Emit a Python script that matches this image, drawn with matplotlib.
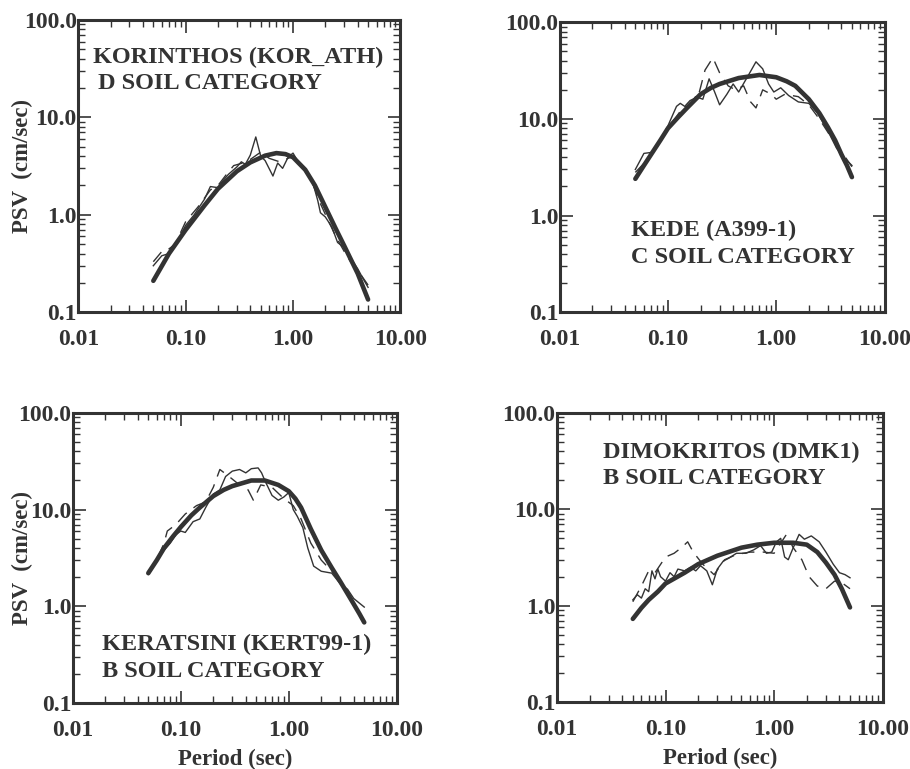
import numpy as np
import matplotlib
matplotlib.use("Agg")
from matplotlib import pyplot as plt
from matplotlib.ticker import LogLocator, NullFormatter

plt.rcParams['font.family'] = ['Liberation Serif', 'DejaVu Serif']
plt.rcParams['font.weight'] = 'bold'
plt.rcParams['axes.labelweight'] = 'bold'

# ---- data (period in sec, PSV in cm/sec) ----
# KORINTHOS
kor_t_fit = [0.05, 0.07, 0.10, 0.15, 0.20, 0.30, 0.40, 0.55, 0.70, 0.85, 1.00, 1.30, 1.60, 2.00, 2.50, 3.00, 4.00, 5.00]
kor_v_fit = [0.21, 0.40, 0.70, 1.25, 1.85, 2.80, 3.45, 4.05, 4.30, 4.20, 3.90, 2.90, 2.00, 1.20, 0.72, 0.48, 0.25, 0.135]
kor_t_rec1 = [0.05, 0.06, 0.07, 0.08, 0.10, 0.12, 0.15, 0.17, 0.20, 0.22, 0.25, 0.30, 0.33, 0.36, 0.40, 0.45, 0.50, 0.55,
              0.65, 0.72, 0.80, 0.90, 1.00, 1.10, 1.30, 1.50, 1.70, 1.80, 2.00, 2.30, 2.60, 3.00, 3.50, 4.00, 4.50, 5.00]
kor_v_rec1 = [0.30, 0.38, 0.40, 0.48, 0.78, 1.00, 1.45, 1.95, 1.90, 2.20, 2.60, 3.10, 3.50, 3.30, 4.10, 6.30, 4.00, 3.60,
              2.50, 3.40, 3.00, 3.90, 4.30, 3.60, 3.00, 2.30, 1.40, 1.05, 0.95, 0.75, 0.52, 0.46, 0.35, 0.28, 0.22, 0.18]
kor_t_rec2 = [0.05, 0.06, 0.065, 0.08, 0.10, 0.13, 0.17, 0.20, 0.24, 0.28, 0.34, 0.40, 0.50, 0.60, 0.75, 0.90, 1.00,
              1.20, 1.50, 1.80, 2.10, 2.50, 3.00, 3.50, 4.00, 5.00]
kor_v_rec2 = [0.33, 0.42, 0.42, 0.50, 0.85, 1.20, 1.80, 2.00, 2.60, 3.20, 3.40, 3.70, 4.40, 3.80, 3.50, 3.80, 4.00,
              3.20, 2.20, 1.30, 0.90, 0.60, 0.42, 0.32, 0.27, 0.19]

# KEDE
ked_t_fit = [0.05, 0.06, 0.07, 0.085, 0.10, 0.125, 0.15, 0.20, 0.25, 0.30, 0.45, 0.70, 1.00, 1.25, 1.50, 2.00, 2.50,
             3.00, 3.50, 4.00, 4.50, 5.00]
ked_v_fit = [2.4, 3.3, 4.3, 6.0, 8.0, 10.5, 13.0, 18.0, 21.0, 23.0, 26.5, 28.5, 27.0, 24.5, 22.0, 16.0, 11.5,
             8.2, 6.0, 4.3, 3.3, 2.5]
ked_t_rec1 = [0.05, 0.06, 0.07, 0.08, 0.09, 0.10, 0.12, 0.13, 0.15, 0.18, 0.21, 0.24, 0.27, 0.30, 0.35, 0.40, 0.45,
              0.55, 0.65, 0.75, 0.85, 0.95, 1.10, 1.30, 1.60, 2.00, 2.40, 3.00, 3.60, 4.20, 5.00]
ked_v_rec1 = [3.0, 4.4, 4.5, 5.2, 6.8, 8.5, 13.5, 14.5, 13.0, 17.0, 16.0, 26.0, 19.0, 14.0, 18.0, 23.0, 19.0,
              28.0, 39.0, 33.0, 23.0, 19.0, 21.0, 17.5, 15.0, 14.5, 11.5, 7.5, 5.0, 4.0, 3.3]
ked_t_rec2 = [0.05, 0.065, 0.08, 0.10, 0.13, 0.16, 0.19, 0.22, 0.26, 0.30, 0.36, 0.42, 0.50, 0.58, 0.65, 0.75,
              0.90, 1.00, 1.20, 1.60, 2.00, 2.50, 3.20, 4.00, 5.00]
ked_v_rec2 = [2.8, 3.8, 5.5, 8.0, 12.0, 15.5, 17.0, 32.0, 43.0, 30.0, 22.0, 20.0, 22.0, 15.0, 13.0, 20.0,
              18.0, 16.0, 18.0, 17.0, 14.0, 10.0, 6.5, 4.6, 3.2]

# KERATSINI
ker_t_fit = [0.05, 0.06, 0.07, 0.085, 0.10, 0.125, 0.15, 0.20, 0.25, 0.30, 0.45, 0.60, 0.80, 1.00, 1.15, 1.30, 1.60,
             2.00, 2.50, 3.00, 3.50, 4.00, 4.50, 5.00]
ker_v_fit = [2.2, 3.0, 4.0, 5.3, 6.6, 8.7, 10.5, 13.8, 16.0, 17.5, 20.0, 20.0, 18.0, 15.5, 13.0, 10.5, 6.3,
             3.8, 2.5, 1.8, 1.35, 1.05, 0.84, 0.68]
ker_t_rec1 = [0.05, 0.06, 0.07, 0.08, 0.09, 0.10, 0.11, 0.13, 0.15, 0.17, 0.20, 0.23, 0.26, 0.30, 0.35, 0.40, 0.45,
              0.52, 0.56, 0.60, 0.70, 0.80, 0.90, 1.00, 1.10, 1.20, 1.35, 1.50, 1.70, 2.00, 2.50, 3.00, 3.50, 4.00, 5.00]
ker_v_rec1 = [2.3, 3.0, 3.8, 4.5, 5.5, 6.0, 5.8, 7.5, 8.0, 10.5, 14.5, 16.0, 22.0, 25.0, 26.0, 24.0, 26.5,
              27.0, 24.0, 20.0, 14.0, 12.5, 13.5, 15.0, 10.0, 8.5, 6.5, 4.0, 2.6, 2.3, 2.2, 1.7, 1.5, 1.2, 0.98]
ker_t_rec2 = [0.05, 0.06, 0.07, 0.075, 0.09, 0.11, 0.14, 0.17, 0.20, 0.23, 0.28, 0.35, 0.42, 0.47, 0.55, 0.70,
              0.90, 1.10, 1.30, 1.60, 2.00, 2.50, 3.00, 4.00, 5.00]
ker_v_rec2 = [2.1, 3.0, 4.5, 6.0, 7.0, 9.0, 11.0, 12.0, 17.0, 26.0, 22.0, 18.0, 16.0, 12.5, 18.0, 17.0,
              13.0, 11.0, 8.0, 4.5, 3.0, 2.3, 1.8, 1.1, 0.7]

# DIMOKRITOS
dmk_t_fit = [0.05, 0.06, 0.07, 0.085, 0.10, 0.15, 0.20, 0.30, 0.50, 0.70, 1.00, 1.50, 2.00, 2.50, 3.00, 3.60, 4.20, 5.00]
dmk_v_fit = [0.73, 0.95, 1.15, 1.40, 1.70, 2.20, 2.70, 3.30, 4.00, 4.30, 4.50, 4.50, 4.30, 3.60, 2.80, 2.10, 1.50, 0.96]
dmk_t_rec1 = [0.05, 0.055, 0.06, 0.065, 0.07, 0.075, 0.08, 0.085, 0.09, 0.10, 0.11, 0.12, 0.13, 0.15, 0.17, 0.19,
              0.21, 0.24, 0.27, 0.30, 0.34, 0.38, 0.45, 0.55, 0.65, 0.75, 0.85, 0.95, 1.05, 1.15, 1.25, 1.35,
              1.50, 1.70, 1.90, 2.20, 2.60, 3.00, 3.50, 4.00, 4.50, 5.00]
dmk_v_rec1 = [1.15, 1.3, 1.2, 1.5, 1.4, 2.3, 1.9, 2.4, 2.0, 1.8, 2.2, 2.0, 2.4, 2.3, 2.5, 2.3,
              2.6, 2.3, 1.65, 2.4, 2.9, 3.1, 3.5, 3.5, 3.8, 4.2, 3.5, 3.6, 4.6, 5.0, 3.2, 3.0,
              4.0, 5.5, 4.9, 5.3, 4.6, 3.6, 2.7, 2.2, 2.1, 1.95]
dmk_t_rec2 = [0.05, 0.06, 0.07, 0.08, 0.10, 0.12, 0.14, 0.16, 0.18, 0.22, 0.28, 0.35, 0.45, 0.60, 0.80, 1.00,
              1.30, 1.50, 1.80, 2.10, 2.50, 3.00, 3.60, 4.30, 5.00]
dmk_v_rec2 = [1.1, 1.6, 2.3, 2.2, 3.2, 3.5, 4.0, 4.6, 3.6, 2.7, 2.1, 3.0, 3.4, 3.6, 3.6, 3.5,
              5.5, 4.0, 3.0, 2.0, 1.6, 1.5, 1.8, 1.7, 1.5]

station_names = ["KORINTHOS (KOR_ATH)", "KEDE (A399-1)", "KERATSINI (KERT99-1)", "DIMOKRITOS (DMK1)"]
soil_names = ["D SOIL CATEGORY", "C SOIL CATEGORY", "B SOIL CATEGORY", "B SOIL CATEGORY"]

x_ticks = [0.01, 0.1, 1, 10]
x_tick_labels = ["0.01", "0.10", "1.00", "10.00"]
y_ticks = [0.1, 1, 10, 100]
y_tick_labels = ["0.1", "1.0", "10.0", "100.0"]

panels = [
    (kor_t_fit, kor_v_fit, kor_t_rec1, kor_v_rec1, kor_t_rec2, kor_v_rec2),
    (ked_t_fit, ked_v_fit, ked_t_rec1, ked_v_rec1, ked_t_rec2, ked_v_rec2),
    (ker_t_fit, ker_v_fit, ker_t_rec1, ker_v_rec1, ker_t_rec2, ker_v_rec2),
    (dmk_t_fit, dmk_v_fit, dmk_t_rec1, dmk_v_rec1, dmk_t_rec2, dmk_v_rec2),
]

# axes rectangles and label placement (axes fraction)
rects = [[0.086, 0.594, 0.354, 0.380],
         [0.615, 0.594, 0.357, 0.377],
         [0.080, 0.086, 0.356, 0.377],
         [0.612, 0.087, 0.358, 0.376]]
label_pos = [((0.047, 0.873), (0.062, 0.784)),
             ((0.22, 0.283), (0.22, 0.19)),
             ((0.09, 0.20), (0.09, 0.107)),
             ((0.141, 0.865), (0.141, 0.775))]
ylabel_x = {0: -0.14, 2: -0.123}

ink = "#333333"

fig = plt.figure(figsize=(9.1, 7.69), dpi=100)

for i, (tf, vf, t1, v1, t2, v2) in enumerate(panels):
    ax = fig.add_axes(rects[i])
    ax.loglog(t1, v1, color=ink, lw=1.0)
    ax.loglog(t2, v2, color=ink, lw=1.0, dashes=(9, 6))
    ax.loglog(tf, vf, color=ink, lw=3.3, solid_capstyle='round', solid_joinstyle='round')
    ax.set_xlim(0.01, 10)
    ax.set_ylim(0.1, 100)

    ax.set_xticks(x_ticks, labels=x_tick_labels)
    ax.set_yticks(y_ticks, labels=y_tick_labels)
    ax.xaxis.set_minor_locator(LogLocator(base=10, subs=np.arange(2, 10)))
    ax.yaxis.set_minor_locator(LogLocator(base=10, subs=np.arange(2, 10)))
    ax.xaxis.set_minor_formatter(NullFormatter())
    ax.yaxis.set_minor_formatter(NullFormatter())
    ax.tick_params(which='both', direction='in', top=True, right=True, colors=ink)
    ax.tick_params(which='major', length=9, width=1.2, labelsize=17)
    ax.tick_params(which='minor', length=5, width=1.0)
    ax.tick_params(axis='y', pad=1)
    ax.tick_params(axis='x', pad=12)
    for s in ax.spines.values():
        s.set_linewidth(2.2)
        s.set_color(ink)

    (x1, y1), (x2, y2) = label_pos[i]
    ax.text(x1, y1, station_names[i], transform=ax.transAxes, fontsize=17.5,
            color=ink, va='center', ha='left')
    ax.text(x2, y2, soil_names[i], transform=ax.transAxes, fontsize=17.5,
            color=ink, va='center', ha='left')

    if i in (0, 2):
        ax.set_ylabel("PSV  (cm/sec)", fontsize=16.5, color=ink)
        ax.yaxis.set_label_coords(ylabel_x[i], 0.5)
    if i in (2, 3):
        ax.set_xlabel("Period (sec)", fontsize=16.5, color=ink, labelpad=6)

fig.savefig("out.png", dpi=100, facecolor='white')
